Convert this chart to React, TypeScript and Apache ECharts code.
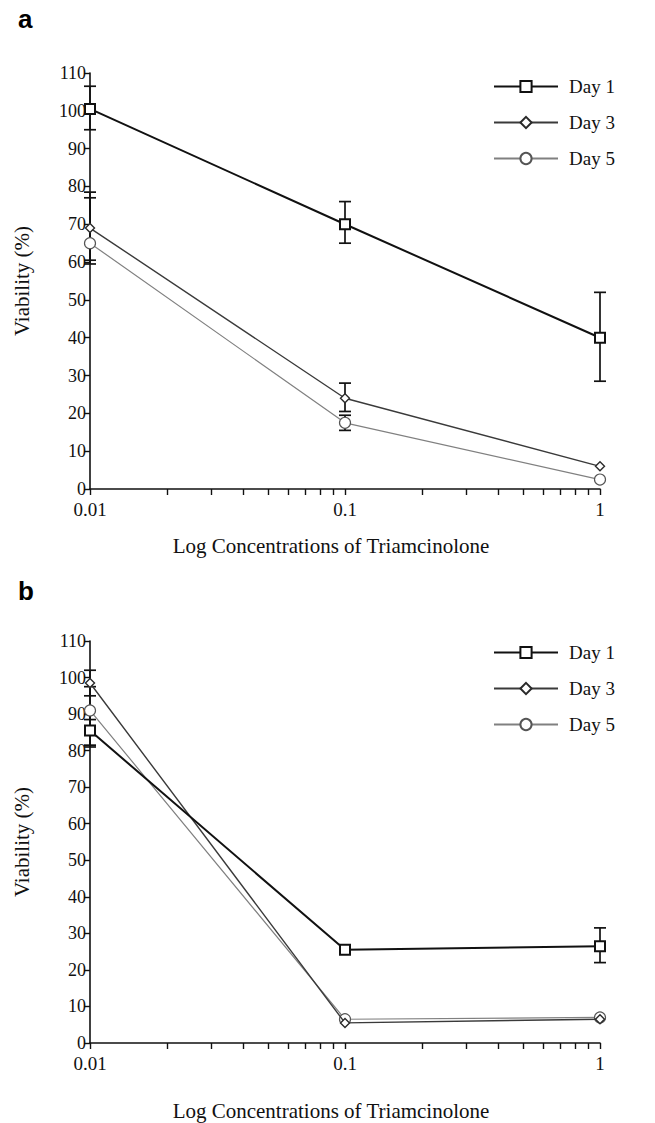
import React, { useEffect, useRef } from "react";
import * as echarts from "echarts";

const xValues = [0.01, 0.1, 1];
const xTickValues = [0.01, 0.02, 0.03, 0.04, 0.05, 0.06, 0.07, 0.08, 0.09, 0.1, 0.2, 0.3, 0.4, 0.5, 0.6, 0.7, 0.8, 0.9, 1];
const xLabelValues = [0.01, 0.1, 1];
const seriesNames = ["Day 1", "Day 3", "Day 5"];

// Panel a
const aDay1 = [100.5, 70, 40];
const aDay3 = [69, 24, 6];
const aDay5 = [65, 17.5, 2.5];
const aDay1Low = [95, 65, 28.5];
const aDay1High = [106.5, 76, 52];
const aDay3Low = [59.5, 20.5, null];
const aDay3High = [78.5, 28, null];
const aDay5Low = [60.5, 15.5, null];
const aDay5High = [77, 19.5, null];

// Panel b
const bDay1 = [85.5, 25.5, 26.5];
const bDay3 = [98.5, 5.5, 6.5];
const bDay5 = [91, 6.5, 7];
const bDay1Low = [81, null, 22];
const bDay1High = [88.5, null, 31.5];
const bDay3Low = [95, null, null];
const bDay3High = [102, null, null];
const bDay5Low = [81.5, null, null];
const bDay5High = [97.5, null, null];

const SERIF = "Liberation Serif";

const styles = [
  { symbol: "rect", size: 10, line: "#111", width: 2, border: "#111", bw: 2 },
  { symbol: "diamond", size: 9, line: "#3a3a3a", width: 1.4, border: "#2a2a2a", bw: 1.4 },
  { symbol: "circle", size: 11, line: "#808080", width: 1.2, border: "#555", bw: 1.2 },
];

function errData(lows: (number | null)[][], highs: (number | null)[][]) {
  const out: number[][] = [];
  lows.forEach((lowArr, s) => {
    lowArr.forEach((lo, i) => {
      const hi = highs[s][i];
      if (lo != null && hi != null) out.push([xValues[i], lo, hi]);
    });
  });
  return out;
}

export default function App() {
  const ref = useRef<HTMLDivElement>(null);
  useEffect(() => {
    if (!ref.current) return;
    const chart = echarts.init(ref.current, null, { renderer: "svg" });

    const grids = [
      { left: 90, top: 73, width: 510, height: 416 },
      { left: 90, top: 641, width: 510, height: 402 },
    ];
    const xNameGaps = [46, 57];

    const xAxis = grids.map((_, gi) => ({
      type: "log",
      logBase: 10,
      gridIndex: gi,
      min: 0.01,
      max: 1,
      name: "Log Concentrations of Triamcinolone",
      nameLocation: "middle",
      nameGap: xNameGaps[gi],
      nameTextStyle: { fontFamily: SERIF, fontSize: 21, color: "#111", padding: [0, 28, 0, 0] },
      axisLine: { lineStyle: { color: "#111", width: 1.6 } },
      axisTick: { show: true, length: 6, lineStyle: { color: "#111", width: 1.4 }, customValues: xTickValues },
      axisLabel: {
        fontFamily: SERIF,
        fontSize: 19,
        lineHeight: 17,
        color: "#111",
        margin: 12,
        customValues: xLabelValues,
        formatter: (v: number) => String(v),
      },
      splitLine: { show: false },
      minorTick: { show: false },
    }));

    const yAxis = grids.map((_, gi) => ({
      type: "value",
      gridIndex: gi,
      min: 0,
      max: 110,
      interval: 10,
      name: "Viability (%)",
      nameLocation: "middle",
      nameGap: 58,
      nameRotate: 90,
      nameTextStyle: { fontFamily: SERIF, fontSize: 21, color: "#111" },
      axisLine: { show: true, lineStyle: { color: "#111", width: 1.6 } },
      axisTick: { show: true, length: 6, lineStyle: { color: "#111", width: 1.4 } },
      axisLabel: { fontFamily: SERIF, fontSize: 18, lineHeight: 15, color: "#111", margin: 4 },
      splitLine: { show: false },
    }));

    const panelData = [
      [aDay1, aDay3, aDay5],
      [bDay1, bDay3, bDay5],
    ];
    const panelErr = [
      errData([aDay1Low, aDay3Low, aDay5Low], [aDay1High, aDay3High, aDay5High]),
      errData([bDay1Low, bDay3Low, bDay5Low], [bDay1High, bDay3High, bDay5High]),
    ];

    const series: any[] = [];
    panelErr.forEach((data, gi) => {
      series.push({
        type: "custom",
        xAxisIndex: gi,
        yAxisIndex: gi,
        data,
        clip: false,
        z: 1,
        renderItem: (params: any, api: any) => {
          const x = api.value(0);
          const p1 = api.coord([x, api.value(1)]);
          const p2 = api.coord([x, api.value(2)]);
          const hw = 6;
          const st = { stroke: "#111", lineWidth: 1.7 };
          return {
            type: "group",
            children: [
              { type: "line", shape: { x1: p1[0], y1: p1[1], x2: p2[0], y2: p2[1] }, style: st },
              { type: "line", shape: { x1: p1[0] - hw, y1: p1[1], x2: p1[0] + hw, y2: p1[1] }, style: st },
              { type: "line", shape: { x1: p2[0] - hw, y1: p2[1], x2: p2[0] + hw, y2: p2[1] }, style: st },
            ],
          };
        },
      });
    });
    panelData.forEach((sets, gi) => {
      sets.forEach((vals, si) => {
        const s = styles[si];
        series.push({
          type: "line",
          name: seriesNames[si],
          xAxisIndex: gi,
          yAxisIndex: gi,
          data: vals.map((v, i) => [xValues[i], v]),
          symbol: s.symbol,
          symbolSize: s.size,
          showAllSymbol: true,
          clip: false,
          z: 3 - si + 2,
          lineStyle: { color: s.line, width: s.width },
          itemStyle: { color: "#fff", borderColor: s.border, borderWidth: s.bw },
        });
      });
    });

    const legends = [71, 637].map((top) => ({
      orient: "vertical",
      left: 488,
      top,
      itemWidth: 64,
      itemHeight: 14,
      itemGap: 15,
      data: seriesNames,
      textStyle: { fontFamily: SERIF, fontSize: 19, lineHeight: 21, color: "#111", padding: [0, 0, 0, 6] },
      selectedMode: false,
    }));

    chart.setOption({
      animation: false,
      backgroundColor: "#fff",
      grid: grids,
      xAxis,
      yAxis,
      legend: legends,
      series,
      graphic: [
        { type: "text", left: 18, top: 6, style: { text: "a", font: "bold 26px Liberation Sans", fill: "#000" } },
        { type: "text", left: 18, top: 578, style: { text: "b", font: "bold 26px Liberation Sans", fill: "#000" } },
      ],
    });
    return () => chart.dispose();
  }, []);
  return <div ref={ref} style={{ position: "fixed", left: 0, top: 0, width: 655, height: 1123 }} />;
}
